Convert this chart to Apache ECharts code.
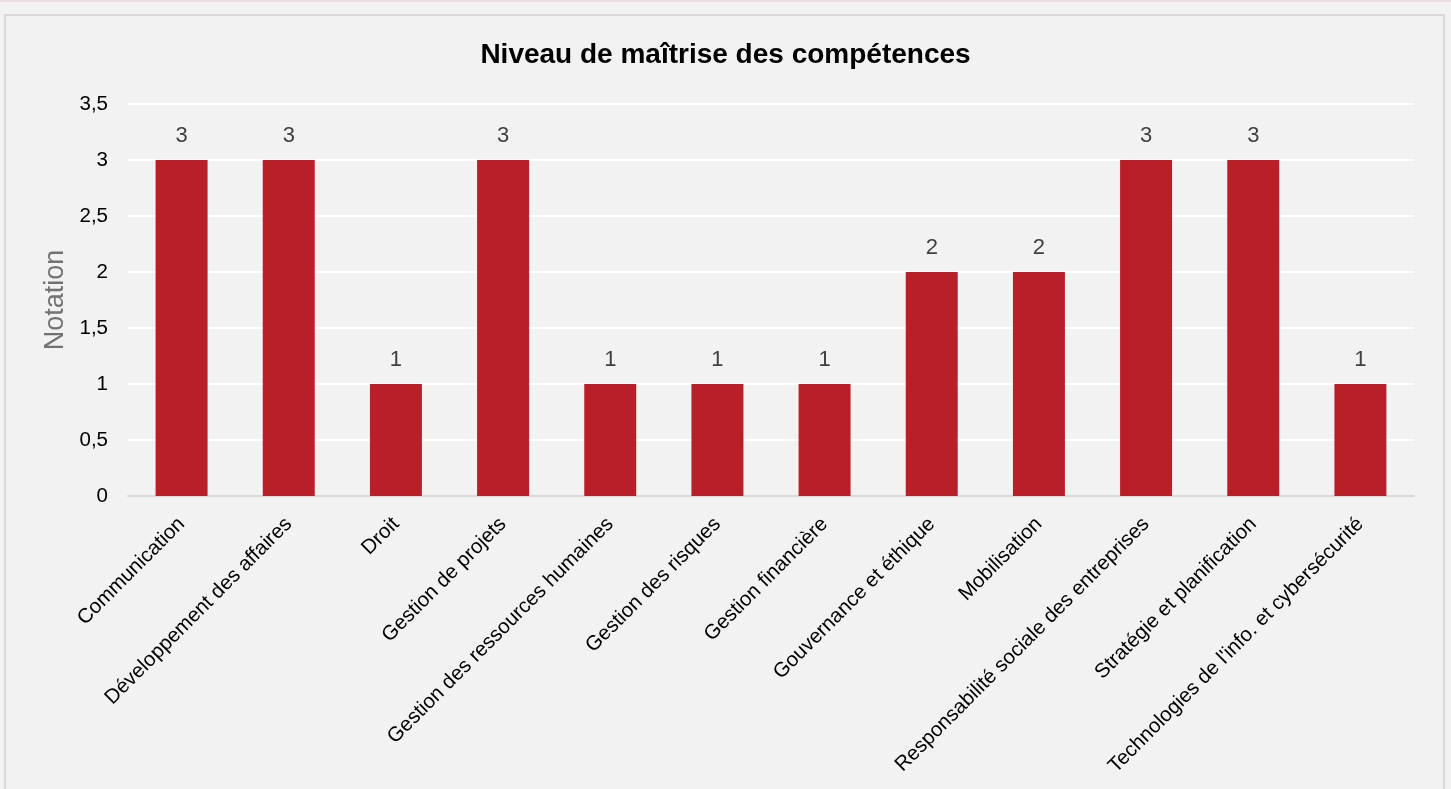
<!DOCTYPE html>
<html>
<head>
<meta charset="utf-8">
<script src="https://cdn.jsdelivr.net/npm/echarts@6/dist/echarts.min.js"></script>
<style>
html,body{margin:0;padding:0;background:#f2f2f2;}
#chart{width:1451px;height:789px;}
</style>
</head>
<body>
<div id="chart"></div>
<script>
const categories = ["Communication","Développement des affaires","Droit","Gestion de projets","Gestion des ressources humaines","Gestion des risques","Gestion financière","Gouvernance et éthique","Mobilisation","Responsabilité sociale des entreprises","Stratégie et planification","Technologies de l'info. et cybersécurité"];
const values = [3,3,1,3,1,1,1,2,2,3,3,1];
const yTicks = [0,0.5,1,1.5,2,2.5,3,3.5];

const FONT = 'Liberation Sans, Arial, sans-serif';
const chart = echarts.init(document.getElementById('chart'));
chart.setOption({
  backgroundColor: '#f2f2f2',
  animation: false,
  graphic: [
    {type:'rect', shape:{x:0,y:0,width:1451,height:2}, style:{fill:'#eedede'}, silent:true},
    {type:'rect', shape:{x:5,y:15,width:1439,height:800}, style:{fill:'none',stroke:'#d9d9d9',lineWidth:2}, silent:true}
  ],
  title: {
    text: 'Niveau de maîtrise des compétences',
    left: 'center', top: 36,
    textStyle: {fontFamily:FONT, fontSize:28, fontWeight:'bold', color:'#000'}
  },
  grid: {left:128, right:37, top:104, bottom:293},
  xAxis: {
    type:'category',
    data: categories,
    axisLine:{lineStyle:{color:'#d9d9d9', width:2}},
    axisTick:{show:false},
    axisLabel:{rotate:45, interval:0, fontFamily:FONT, fontSize:20.5, color:'#000', margin:25}
  },
  yAxis: {
    type:'value', min:0, max:3.5, interval:0.5,
    name:'Notation', nameLocation:'middle', nameGap:58, nameRotate:90,
    nameTextStyle:{fontFamily:FONT, fontSize:27, color:'#737373'},
    axisLine:{show:false}, axisTick:{show:false},
    splitLine:{lineStyle:{color:'#ffffff', width:2}},
    axisLabel:{fontFamily:FONT, fontSize:20.5, color:'#000', margin:20,
      formatter: v => (yTicks.includes(v) ? String(v).replace('.', ',') : '')}
  },
  series: [{
    type:'bar',
    data: values,
    barWidth:'48.5%',
    itemStyle:{color:'#b91f28'},
    label:{show:true, position:'top', distance:13, fontFamily:FONT, fontSize:22, color:'#404040'}
  }]
});
</script>
</body>
</html>
